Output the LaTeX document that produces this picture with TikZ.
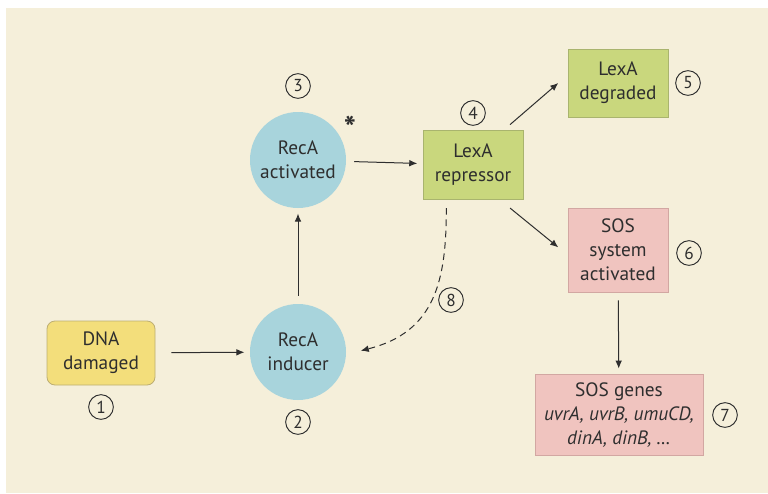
\documentclass[tikz,border=0pt]{standalone}
\usepackage{fontspec}
\setmainfont{PT Sans}
\usetikzlibrary{arrows,arrows.meta,positioning}

\definecolor{bgCream}{HTML}{F5EFDA}
\definecolor{textGrey}{HTML}{2E2E2E}
\definecolor{dnaYellow}{HTML}{F3DE7B}
\definecolor{dnaBorder}{HTML}{BDAE72}
\definecolor{recaBlue}{HTML}{A8D4DC}
\definecolor{lexaGreen}{HTML}{C9D77D}
\definecolor{lexaBorder}{HTML}{A9B46E}
\definecolor{sosPink}{HTML}{F0C4BF}
\definecolor{sosBorder}{HTML}{D2A7A2}

\begin{document}
\begin{tikzpicture}[>={Latex[length=6pt,width=5pt]}, x=0.75pt, y=-0.75pt]
  \tikzstyle{state} = [rectangle, draw, line width=0.6pt, minimum width=75pt, inner sep=3pt, align=center, text=textGrey, font={\fontsize{14.5}{18}\selectfont}]
  \tikzstyle{cell} = [circle, fill=recaBlue, minimum size=72pt, inner sep=0pt, align=center, text=textGrey, font={\fontsize{14.5}{18}\selectfont}]
  \tikzstyle{stepNum} = [circle, draw=textGrey, line width=0.7pt, minimum size=18.5pt, inner sep=0pt, text=textGrey, font={\fontsize{13}{13}\selectfont}]

  \tikzstyle{stateEdge} = [textGrey, line width=0.75pt, ->, shorten <=6pt, shorten >=4pt];
  \tikzstyle{feedbackEdge} = [stateEdge, dash pattern=on 5pt off 3.5pt];

  \useasboundingbox (0,0) rectangle (768,493);
  \fill[bgCream] (6,8) rectangle (768,493);

  \node[state, fill=dnaYellow, draw=dnaBorder, rounded corners=6pt, minimum width=81pt, minimum height=48pt] (dna) at (101,353) {DNA\\damaged};
  \node[cell] (inducer)   at (298,352) {RecA\\inducer};
  \node[cell] (activated) at (298,160) {RecA\\activated};
  \node[state, fill=lexaGreen, draw=lexaBorder, minimum height=52pt] (repressor) at (473,165) {LexA\\repressor};
  \node[state, fill=lexaGreen, draw=lexaBorder, minimum height=51pt] (degraded)  at (618,83)  {LexA\\degraded};
  \node[state, fill=sosPink, draw=sosBorder, minimum height=63pt] (sosSystem) at (618,250) {SOS\\system\\activated};
  \node[state, fill=sosPink, draw=sosBorder, minimum width=126pt, minimum height=61pt] (sosGenes) at (619,415)
    {SOS genes\\\textit{uvrA, uvrB, umuCD,}\\\textit{dinA, dinB, \dots}};

  % step numbers
  \node[stepNum] (n1) at (101,407) {1};
  \node[stepNum] (n2) at (298,422) {2};
  \node[stepNum] (n3) at (298,86)  {3};
  \node[stepNum] (n4) at (473,113) {4};
  \node[stepNum] (n5) at (688,83)  {5};
  \node[stepNum] (n6) at (689,253) {6};
  \node[stepNum] (n7) at (725,415) {7};
  \node[stepNum] (n8) at (451,300) {8};
  \node[text=textGrey, font={\fontsize{24}{24}\selectfont\bfseries}] (star) at (350,128) {*};

  \path (dna) edge[stateEdge, shorten <=12pt] (inducer)
        (inducer) edge[stateEdge] (activated)
        (activated) edge[stateEdge] (repressor)
        (sosSystem) edge[stateEdge] (sosGenes);
  \path ([xshift=-10pt,yshift=4pt]repressor.north east) edge[stateEdge, shorten <=0pt, shorten >=0pt] ([xshift=-7pt]degraded.west)
        ([xshift=-10pt,yshift=-6pt]repressor.south east) edge[stateEdge, shorten <=0pt, shorten >=0pt] ([xshift=-7pt,yshift=2pt]sosSystem.west);
  \draw[feedbackEdge] ([xshift=-20pt]repressor.south) .. controls +(0,80) and +(80,-20) .. ([xshift=7pt]inducer.east);
\end{tikzpicture}
\end{document}
